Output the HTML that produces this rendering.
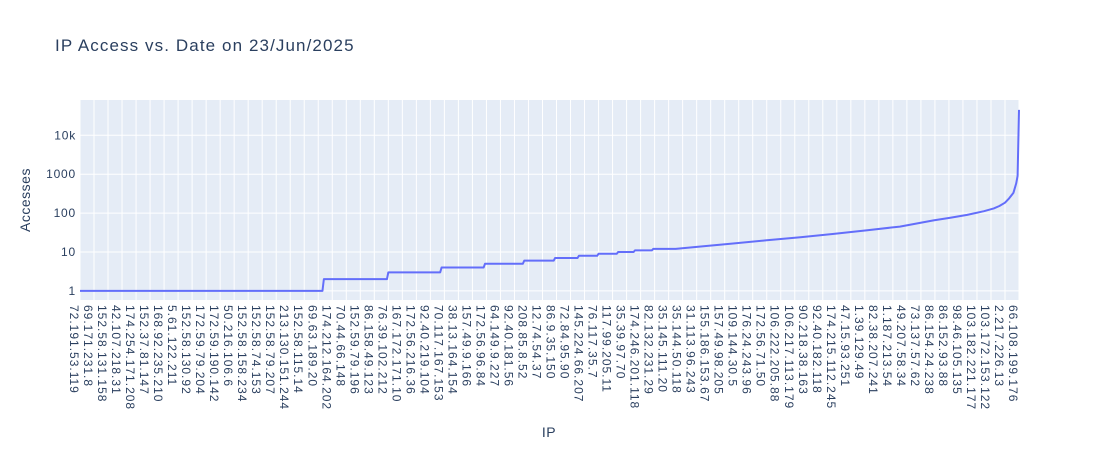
<!DOCTYPE html>
<html><head><meta charset="utf-8">
<style>
html,body{margin:0;padding:0;background:#fff;}
svg{display:block;font-family:"Liberation Sans",Arial,sans-serif;}
</style></head>
<body>
<svg id="chart" width="1099" height="450">
<text x="55" y="51" font-size="17" letter-spacing="1.1" fill="#2a3f5f">IP Access vs. Date on 23/Jun/2025</text>
<rect x="80" y="100" width="939" height="200" fill="#e5ecf6"/>
<g id="grid"></g>
<g id="xticks"></g>
<g id="yticks"></g>
<g id="series"></g>
<text x="549" y="437" font-size="14" letter-spacing="0.5" fill="#2a3f5f" text-anchor="middle">IP</text>
<text transform="translate(30,200) rotate(-90)" font-size="14" letter-spacing="0.5" fill="#2a3f5f" text-anchor="middle">Accesses</text>
</svg>
<script>
const tickLabels = ["72.191.53.119","69.171.231.8","152.58.131.158","42.107.218.31","174.254.171.208","152.37.81.147","168.92.235.210","5.61.122.211","152.58.130.92","172.59.79.204","172.59.190.142","50.216.106.6","152.58.158.234","152.58.74.153","152.58.79.207","213.130.151.244","152.58.115.14","69.63.189.20","174.212.164.202","70.44.66.148","152.59.79.196","86.158.49.123","76.39.102.212","167.172.171.10","172.56.216.36","92.40.219.104","70.117.167.153","38.13.164.154","157.49.9.166","172.56.96.84","64.149.9.227","92.40.181.56","208.85.8.52","12.74.54.37","86.9.35.150","72.84.95.90","145.224.66.207","76.117.35.7","117.99.205.11","35.39.97.70","174.246.201.118","82.132.231.29","35.145.111.20","35.144.50.118","31.113.96.243","155.186.153.67","157.49.98.205","109.144.30.5","176.24.243.96","172.56.71.50","106.222.205.88","106.217.113.179","90.218.38.163","92.40.182.118","174.215.112.245","47.15.93.251","1.39.129.49","82.38.207.241","1.187.213.54","49.207.58.34","73.137.57.62","86.154.24.238","86.152.93.88","98.46.105.135","103.182.221.177","103.172.153.122","2.217.226.13","66.108.199.176"];
const tickEvery = 10;
const levelValues = [1,2,3,4,5,6,7,8,9,10,11,12];
const levelRuns = [174,46,38,31,28,22,17,14,14,12,13,17];
const tailIndex = [442,466,490,514,537,561,585,597,609,621,633,645,652,656,660,663,666,668,669,670];
const tailValue = [13.7,16.5,20,24,29,36,45,54,65,76,90,112,132,152,185,240,330,580,900,45000];
const yTickValues = [1,10,100,1000,10000];
const yTickLabels = ["1","10","100","1000","10k"];

const NS="http://www.w3.org/2000/svg";
const nCat=(tickLabels.length-1)*tickEvery+1;
const X0=80,X1=1019,Y0=300,Y1=100,LMIN=-0.234,LMAX=4.907;
const xs=i=>X0+i*(X1-X0)/(nCat-1);
const ys=v=>Y0-(Math.log10(v)-LMIN)/(LMAX-LMIN)*(Y0-Y1);
function mk(t,a,p){const e=document.createElementNS(NS,t);for(const k in a)e.setAttribute(k,a[k]);p.appendChild(e);return e;}
const grid=document.getElementById('grid'),xt=document.getElementById('xticks'),yt=document.getElementById('yticks'),ser=document.getElementById('series');
tickLabels.forEach((lab,k)=>{
  const x=xs(k*tickEvery);
  const g=mk('line',{x1:x,x2:x,y1:Y1,y2:Y0,stroke:'#fff','stroke-width':1},grid);
  
  
  const t=mk('text',{transform:`translate(${x-10},305) rotate(90)`,'font-size':12,'letter-spacing':1,fill:'#2a3f5f'},xt);
  t.textContent=lab;
  
  
});
yTickValues.forEach((v,k)=>{
  const y=ys(v);
  const g=mk('line',{x1:X0,x2:X1,y1:y,y2:y,stroke:'#fff','stroke-width':1},grid);
  
  
  const t=mk('text',{x:76,y:y+4,'font-size':12,'letter-spacing':0.8,fill:'#2a3f5f','text-anchor':'end'},yt);
  t.textContent=yTickLabels[k];
  
  
});
const pts=[];let idx=0;
levelValues.forEach((v,k)=>{
  pts.push([xs(idx),ys(v)]);
  idx+=levelRuns[k];
  pts.push([xs(idx-1),ys(v)]);
});
tailIndex.forEach((i,k)=>pts.push([xs(i),ys(tailValue[k])]));
const line=mk('polyline',{points:pts.map(p=>p.join(',')).join(' '),fill:'none',stroke:'#636efa','stroke-width':2,'stroke-linejoin':'round'},ser);


</script>
</body></html>
